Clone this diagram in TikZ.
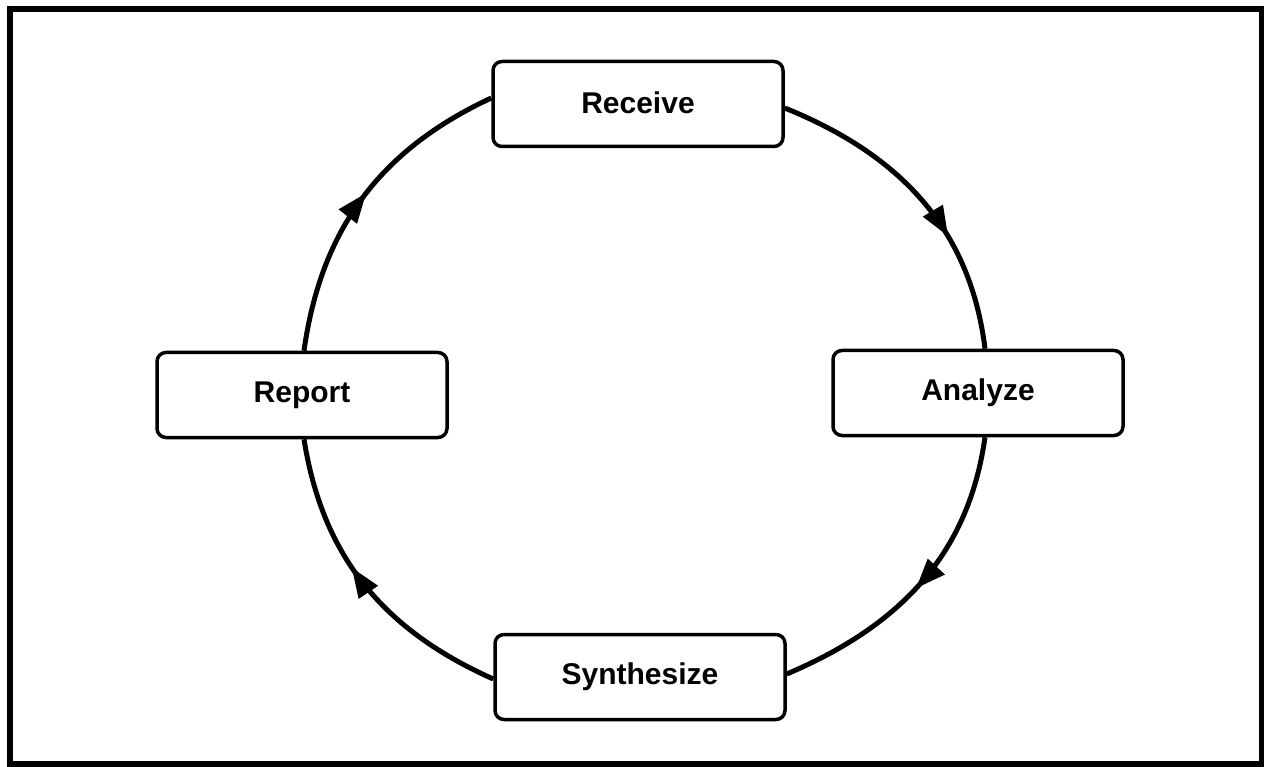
\documentclass[tikz,border=0pt]{standalone}
\usepackage{fontspec}
\setmainfont{Liberation Sans}
\usetikzlibrary{arrows.meta,decorations.markings}
\tikzset{
  stepbox/.style={draw=black, line width=3.5pt, rounded corners=9pt, fill=white,
    minimum width=290pt, minimum height=85pt, inner sep=0pt,
    font=\fontsize{30}{36}\selectfont\bfseries},
  conn/.style={line width=5pt, postaction={decorate},
    decoration={markings, mark=at position #1 with {\arrow{Triangle[length=30pt,width=22pt]}}}},
  conn/.default=0.55,
  frame/.style={line width=6.5pt}
}
\begin{document}
\begin{tikzpicture}[x=1pt,y=-1pt]
\useasboundingbox (0,0) rectangle (1264,767);
\draw[frame] (10,9) rectangle (1262,764);
\node[stepbox] (receive) at (638,104) {\raisebox{3pt}{Receive}};
\node[stepbox] (analyze) at (978,393) {Analyze};
\node[stepbox] (synth) at (640,677) {\raisebox{2pt}{Synthesize}};
\node[stepbox] (report) at (302,395) {Report};
\coordinate (r1) at ([yshift=-4pt]receive.east);
\coordinate (a1) at ([xshift=7pt]analyze.north);
\coordinate (a2) at ([xshift=7pt]analyze.south);
\coordinate (s1) at ([yshift=3pt]synth.east);
\coordinate (s2) at ([yshift=-2pt]synth.west);
\coordinate (p1) at ([xshift=2pt]report.south);
\coordinate (p2) at ([xshift=2pt]report.north);
\coordinate (r2) at ([yshift=6pt]receive.west);
\draw[conn=0.64] (r1) to[out=-22,in=97] (a1);
\draw[conn=0.52] (a2) to[out=-98,in=23] (s1);
\draw[conn=0.57] (s2) to[out=156,in=-81] (p1);
\draw[conn=0.52] (p2) to[out=82,in=205] (r2);
\end{tikzpicture}
\end{document}
